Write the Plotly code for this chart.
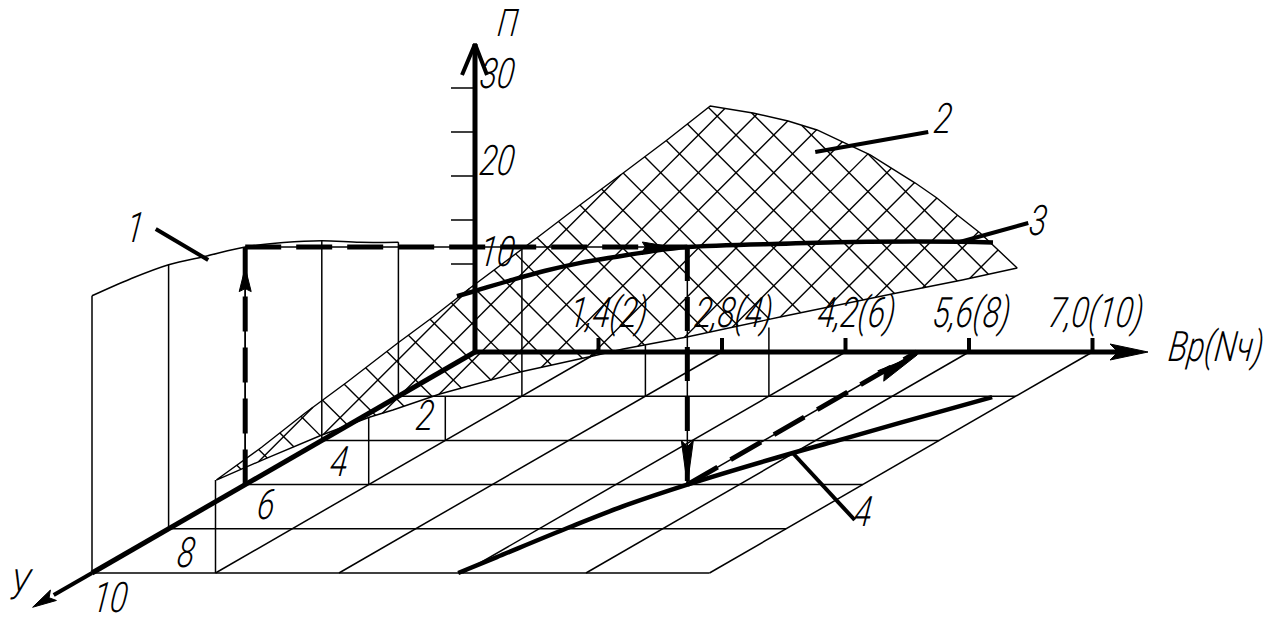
import math
import plotly.graph_objects as go

# ---- diagram data: Bp/N (x axis), Y (oblique axis), П (vertical axis) ----
x_tick_values = [2, 4, 6, 8, 10]
x_tick_labels = ["1,4(2)", "2,8(4)", "4,2(6)", "5,6(8)", "7,0(10)"]
y_tick_values = [2, 4, 6, 8, 10]
y_tick_labels = ["2", "4", "6", "8", "10"]
p_tick_values = [10, 15, 20, 25, 30]
p_tick_labels = {10: "10", 20: "20", 30: "30"}

# curve 1: П against Y in the plane N = 0
curve1_y = [2, 3, 4, 5, 6, 7, 8, 9, 10]
curve1_p = [17.5, 20.0, 22.7, 25.0, 27.0, 28.5, 30.0, 30.9, 31.5]

# curve 3: П against N in the plane Y = 6
curve3_n = [3.43, 3.72, 4.34, 4.86, 5.43, 6.02, 6.56, 7.16, 8.83, 10.07, 11.58, 12.11]
curve3_p = [21.4, 22.0, 23.3, 24.3, 25.2, 25.9, 26.5, 27.0, 27.4, 27.6, 27.6, 27.5]

# curve 4: on the floor
curve4_n = [5.93, 6.11, 6.45, 6.75, 7.16, 7.98, 8.40, 8.87, 9.64]
curve4_y = [10, 9.28, 7.92, 6.92, 6, 4.57, 3.94, 3.21, 2.04]

# surface 2: projected outline
surface_n = [-4.19, -3.45, -2.75, -2.07, -1.25, -0.68, -0.08, 1.00, 1.70, 2.40, 3.11, 3.81,
             4.50, 5.07, 5.54, 5.96, 6.40, 7.13, 7.48, 7.81, 8.18, 8.78,
             7.89, 6.83, 4.94, 3.43, 2.40, 1.91, 0.73, -0.57, -1.33, -1.70, -2.48, -3.37]
surface_p = [-14.55, -10.8, -6.93, -3.41, 1.02, 3.98, 7.27, 12.95, 16.7, 20.34, 24.09, 27.95,
             27.16, 26.25, 25.23, 23.86, 22.39, 19.2, 17.5, 15.57, 13.52, 9.55,
             8.18, 6.70, 3.98, 1.70, 0.34, -0.45, -2.27, -4.77, -6.59, -7.39, -9.43, -12.05]

# operating point
op_n, op_y, op_p = 7.16, 6, 27.0

# verticals on the N = 2, 4, 6 sections: (N, Y, П top)
section_n = [2, 2, 2, 2, 4, 6]
section_y = [10, 6, 4, 2, 2, 2]
section_p = [10.57, 7.6, 5.0, 16.7, 5.8, 7.8]

# ---- frame ----
W, H = 1275, 627
PX_N, PX_P = 61.75, 8.8          # pixels per unit on the two plot axes
ORG_X, ORG_Y = 475, 352
SHEAR_N, SHEAR_P = 38.3 / PX_N, 22.1 / PX_P


def ob(n, y, p=0.0):
    """Oblique projection of (N, Y, П) onto the plot axes."""
    return n - SHEAR_N * y, p - SHEAR_P * y


fig = go.Figure()


def line(xs, ys, width=1.5, dash=None, shape="linear"):
    fig.add_trace(go.Scatter(x=xs, y=ys, mode="lines", hoverinfo="skip", showlegend=False,
                             line=dict(color="black", width=width, dash=dash, simplify=False,
                                       shape=shape)))


def seg(a, b, width=1.5, dash=None):
    line([a[0], b[0]], [a[1], b[1]], width, dash)


def head(tip, direction, length, half, notch=0.0):
    """Filled arrow head; sizes are in pixels, direction is in plot units."""
    dx, dy = direction[0] * PX_N, direction[1] * PX_P
    m = math.hypot(dx, dy)
    dx, dy = dx / m, dy / m
    px, py = -dy, dx
    pts = [(0, 0), (-length, half), (-length + notch, 0), (-length, -half), (0, 0)]
    xs = [tip[0] + (a * dx + b * px) / PX_N for a, b in pts]
    ys = [tip[1] + (a * dy + b * py) / PX_P for a, b in pts]
    fig.add_trace(go.Scatter(x=xs, y=ys, mode="lines", fill="toself", fillcolor="black",
                             hoverinfo="skip", showlegend=False,
                             line=dict(color="black", width=1)))


# ---- hatching clipped to the surface outline ----
def hatch(sign, slope, c_ref, period):
    poly = list(zip(surface_n, surface_p))
    xs, ys = [], []
    for k in range(-40, 41):
        c = c_ref + k * period
        hits = []
        for (x0, y0), (x1, y1) in zip(poly, poly[1:] + poly[:1]):
            f0 = y0 - sign * slope * x0 - c
            f1 = y1 - sign * slope * x1 - c
            if f0 * f1 < 0:
                t = f0 / (f0 - f1)
                hits.append(x0 + t * (x1 - x0))
        hits.sort()
        for a, b in zip(hits[0::2], hits[1::2]):
            xs += [a, b, None]
            ys += [c + sign * slope * a, c + sign * slope * b, None]
    line(xs, ys, 1.4)


SLOPE = PX_N / PX_P
NODE_N, NODE_P = 4.227, 24.66
PERIOD = 37.7 / PX_P
hatch(1, SLOPE, NODE_P - SLOPE * NODE_N, PERIOD)
hatch(-1, SLOPE, NODE_P + SLOPE * NODE_N, PERIOD)
line(surface_n + surface_n[:1], surface_p + surface_p[:1], 1.4)

# ---- floor grid ----
for y in y_tick_values:
    seg(ob(0, y), ob(10, y))
for n in x_tick_values:
    seg(ob(n, 0), ob(n, 10))

# ---- wall in the plane N = 0 with curve 1 ----
cx, cp = zip(*[ob(0, y, p) for y, p in zip(curve1_y, curve1_p)])
line(list(cx), list(cp), shape="spline")
for y in y_tick_values:
    seg(ob(0, y), ob(0, y, curve1_p[curve1_y.index(y)]), 1.5)

# ---- sections ----
for n, y, p in zip(section_n, section_y, section_p):
    seg(ob(n, y), ob(n, y, p), 1.5)

# ---- П ticks ----
for p in p_tick_values:
    seg((-24 / PX_N, p), (0, p))

# ---- curves 3 and 4 ----
c3 = [ob(n, 6, p) for n, p in zip(curve3_n, curve3_p)]
line([a for a, _ in c3], [b for _, b in c3], 4.5, shape="spline")
c4 = [ob(n, y) for n, y in zip(curve4_n, curve4_y)]
line([a for a, _ in c4], [b for _, b in c4], 4.5, shape="spline")

# ---- dashed construction path ----
A = ob(0, op_y)
B = ob(0, op_y, op_p)
C = ob(op_n, op_y, op_p)
D = ob(op_n, op_y)
E = ob(op_n, 0)
for a, b, pat in [(A, B, "35px,16px"), (B, C, "36px,15px"), (C, D, "34px,16px"), (D, E, "35px,15px")]:
    seg(a, b)
    seg(a, b, 5, pat)
head((A[0], A[1] + (485 - 268) / PX_P), (0, 1), 24, 6, 3)
head((C[0] - 15 / PX_N, C[1]), (1, 0), 30, 5, 3)
head((D[0], D[1]), (0, -1), 44, 6, 6)
head((E[0], E[1] - 3 / PX_P), (E[0] - D[0], E[1] - D[1]), 42, 6, 4)

# ---- axes ----
seg((0, 0), (0, 35), 5)
line([-13 / PX_N, 0, 12 / PX_N], [35 - 31 / PX_P, 35 - 0 / PX_P, 35 - 31 / PX_P], 4)
seg((0, 0), (10.6, 0), 5)
head((673 / PX_N, 0), (1, 0), 38, 8, 8)
yend = ob(0, 10)
seg((0, 0), yend, 5)
seg(yend, ob(0, 11), 4)
head(ob(0, 11.55), (-SHEAR_N, -SHEAR_P), 24, 6, 5)
for n in x_tick_values:
    seg((n, 0), (n, 14 / PX_P), 4)

# ---- leader lines ----
leader_1 = [(-5.17, 13.98), (-4.32, 10.45)]
seg(*leader_1, 4)
leader_2 = [(5.51, 22.73), (7.34, 25.0)]
seg(*leader_2, 4)
leader_3 = [(7.85, 12.5), (8.96, 14.66)]
seg(*leader_3, 4)
c4_mid = ob(7.98, 4.57)
leader_4 = [c4_mid, (c4_mid[0] + 62 / PX_N, c4_mid[1] - 67 / PX_P)]
seg(*leader_4, 4)

# ---- text ----
FONT = dict(family="Roboto, Liberation Sans", size=42, color="black", style="italic", weight=300)


def label(text, pos, dx=0, dy=0, size=None):
    f = dict(FONT, size=size or FONT["size"])
    fig.add_annotation(x=pos[0], y=pos[1], text=text, showarrow=False, xshift=dx, yshift=-dy,
                       xanchor="center", yanchor="middle", font=f)


x_label_dx = [10, 12, 11, 3, 4]
for n, t, dx in zip(x_tick_values, x_tick_labels, x_label_dx):
    label(t, (n, 0), dx, -40)
y_label_offset = [(27, 19), (18, 21), (21, 20), (18, 24), (18, 24)]
for y, t, (dx, dy) in zip(y_tick_values, y_tick_labels, y_label_offset):
    label(t, ob(0, y), dx, dy)
for p, t in p_tick_labels.items():
    dy = {10: -13, 20: -16, 30: -15}[p]
    label(t, (0, p), 22, dy)
label("П", (0, 35), 33, -21, size=38)
label("Вр(Nч)", (10.6, 0), 87, -6)
label("У", ob(0, 11), -33, -11)
label("1", leader_1[0], -20, -1)
label("2", leader_2[1], 15, -14)
label("3", leader_3[1], 10, -2)
label("4", leader_4[1], 9, -9)

fig.update_layout(
    width=W, height=H, autosize=False,
    margin=dict(l=0, r=0, t=0, b=0),
    plot_bgcolor="white", paper_bgcolor="white", showlegend=False,
    xaxis=dict(range=[-ORG_X / PX_N, (W - ORG_X) / PX_N], visible=False, fixedrange=True),
    yaxis=dict(range=[(ORG_Y - H) / PX_P, ORG_Y / PX_P], visible=False, fixedrange=True),
)

# page margin off; labels squeezed to the narrow drafting lettering
POST = """
document.body.style.margin = '0';
document.querySelectorAll('.annotation-text').forEach(function (t) {
  var b = t.getBBox(), cx = b.x + b.width / 2, cy = b.y + b.height / 2;
  t.setAttribute('transform',
    'translate(' + cx + ',' + cy + ') skewX(-7) scale(0.76,1) translate(' + (-cx) + ',' + (-cy) + ')');
});
"""
fig.write_html("out.html", post_script=POST, config={"displayModeBar": False})
